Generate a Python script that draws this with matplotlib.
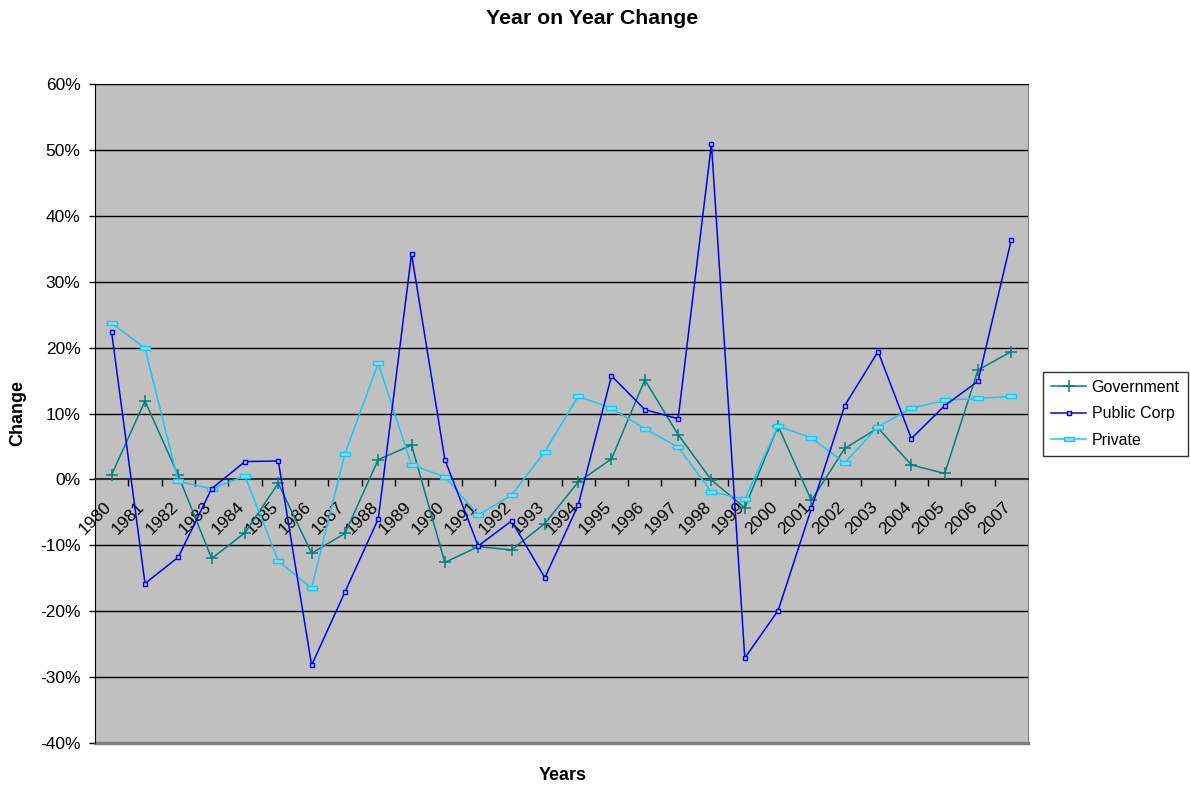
import matplotlib
matplotlib.use("Agg")
import matplotlib.pyplot as plt
from matplotlib.ticker import FixedLocator, FuncFormatter
from matplotlib.transforms import ScaledTranslation

years = list(range(1980, 2008))

government = [0.7, 11.9, 0.6, -12.0, -8.1, -0.6, -11.2, -8.2, 3.0, 5.2,
              -12.6, -10.2, -10.7, -6.7, -0.4, 3.1, 15.1, 6.8, -0.1, -4.3,
              8.1, -3.2, 4.7, 7.8, 2.2, 0.9, 16.6, 19.4]
public_corp = [22.3, -15.8, -11.8, -1.4, 2.7, 2.8, -28.2, -17.1, -6.0, 34.2,
               3.0, -10.1, -6.3, -14.9, -3.9, 15.7, 10.6, 9.2, 50.9, -27.1,
               -19.9, -4.4, 11.2, 19.4, 6.2, 11.2, 14.9, 36.4]
private = [23.7, 19.9, -0.3, -1.4, 0.5, -12.4, -16.5, 3.9, 17.6, 2.2,
           0.4, -5.4, -2.4, 4.2, 12.6, 10.8, 7.7, 4.9, -1.9, -3.0,
           8.1, 6.3, 2.5, 8.0, 10.8, 12.0, 12.3, 12.6]

y_ticks = [-40, -30, -20, -10, 0, 10, 20, 30, 40, 50, 60]

plt.rcParams['font.family'] = ['Liberation Sans', 'DejaVu Sans']

fig = plt.figure(figsize=(11.9, 7.88), dpi=100)
ax = fig.add_axes([95 / 1190, 1 - 743 / 788, (1028 - 95) / 1190, (743 - 84) / 788])
ax.set_facecolor('#C0C0C0')

x = list(range(len(years)))

rect = [(-1, -0.45), (1, -0.45), (1, 0.45), (-1, 0.45), (-1, -0.45)]

ax.plot(x, government, color='#008080', lw=1.1, marker='+', markersize=9,
        markeredgewidth=1.1, label='Government', zorder=3)
ax.plot(x, public_corp, color='#0000FF', lw=1.1, marker='s', markersize=3.5,
        markerfacecolor='#C0C0C0', markeredgecolor='#0000FF', markeredgewidth=1.0,
        label='Public Corp', zorder=4)
ax.plot(x, private, color='#19C8F5', lw=1.1, marker=rect, markersize=7.5,
        markerfacecolor='#8CDDF0', markeredgecolor='#19C8F5', markeredgewidth=1.0,
        label='Private', zorder=3)

ax.set_xlim(-0.5, len(years) - 0.5)
ax.set_ylim(-40, 60)

# horizontal gridlines
for t in y_ticks:
    if t not in (-40, 0):
        ax.axhline(t, color='black', lw=1.0, zorder=1)

ax.yaxis.set_major_locator(FixedLocator(y_ticks))
ax.yaxis.set_major_formatter(FuncFormatter(lambda v, p: f"{int(v)}%"))
ax.tick_params(axis='y', direction='out', length=4.5, width=1, labelsize=12.5, pad=6)

# category axis crosses at zero
ax.spines['bottom'].set_position(('data', 0))
ax.spines['bottom'].set_color('#333333')
ax.spines['bottom'].set_linewidth(1.5)
ax.spines['left'].set_color('black')
ax.spines['right'].set_color('#808080')
ax.spines['top'].set_color('black')
ax.axhline(-40, color='#808080', lw=2.5, zorder=2, clip_on=False)

ax.set_xticks(x)
ax.set_xticklabels([str(y) for y in years], rotation=45, ha='right',
                   rotation_mode='anchor', fontsize=12.5)
ax.tick_params(axis='x', which='major', length=0, pad=14)
ax.set_xticks([i + 0.5 for i in x[:-1]], minor=True)
ax.tick_params(axis='x', which='minor', direction='out', length=5, width=1)
for lbl in ax.get_xticklabels():
    lbl.set_transform(lbl.get_transform() + ScaledTranslation(-8 / 100, 0, fig.dpi_scale_trans))

fig.text(592 / 1190, 1 - 18 / 788, 'Year on Year Change', ha='center', va='center',
         fontsize=15.3, fontweight='bold')
fig.text(18 / 1190, 1 - 413 / 788, 'Change', ha='center', va='center',
         rotation=90, fontsize=13, fontweight='bold')
fig.text(563 / 1190, 1 - 775 / 788, 'Years', ha='center', va='center',
         fontsize=13, fontweight='bold')

leg = fig.legend(loc='upper left', bbox_to_anchor=(1043 / 1190, 1 - 372 / 788),
                 frameon=True, fancybox=False, edgecolor='black', fontsize=11.5,
                 borderpad=0.5, labelspacing=0.72, handlelength=2.2, handletextpad=0.35,
                 borderaxespad=0)
leg.get_frame().set_linewidth(1.0)

fig.savefig('out.png', dpi=100, facecolor='white')
